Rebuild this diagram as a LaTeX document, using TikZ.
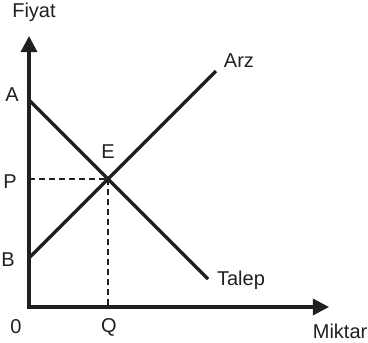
\documentclass[tikz,border=0pt]{standalone}
\usepackage{fontspec}
\setmainfont{Liberation Sans}
\usetikzlibrary{arrows.meta}
\definecolor{ink}{HTML}{231F20}
\begin{document}
\begin{tikzpicture}[x=1pt,y=-1pt,
  lbl/.style={font=\fontsize{20}{22}\selectfont, text=ink, inner sep=0pt},
  axisline/.style={draw=ink, line width=3.2pt, -{Triangle[length=16pt,width=16pt]}},
  curve/.style={draw=ink, line width=3.2pt},
  guide/.style={draw=ink, line width=1.6pt, dash pattern=on 6pt off 4pt}]
\useasboundingbox (0,0) rectangle (368,343);
\coordinate (O) at (29,307);
\coordinate (ytip) at (29,36);
\coordinate (xtip) at (329,307);
\coordinate (Apt) at (29,100);
\coordinate (Bpt) at (29,258);
\coordinate (Ept) at (108,179);
\coordinate (Ppt) at (29,179);
\coordinate (Qpt) at (108,307);
\coordinate (Tend) at (208,279);
\coordinate (Aend) at (216,71);
\draw[guide] (Ppt) -- (Ept);
\draw[guide] (Ept) -- (Qpt);
\draw[curve] (Apt) -- (Tend);
\draw[curve] (Bpt) -- (Aend);
\draw[axisline] ([xshift=-1.6pt]O) -- (xtip);
\draw[axisline] ([yshift=1.6pt]O) -- (ytip);
\node[lbl] (fiyat) at (34,12) {Fiyat};
\node[lbl, anchor=east] (miktar) at (367.5,331) {Miktar};
\node[lbl] (zero) at (16,327) {0};
\node[lbl] (q) at (109,327) {Q};
\node[lbl] (a) at (12,95) {A};
\node[lbl] (p) at (10,182) {P};
\node[lbl] (b) at (8,260) {B};
\node[lbl] (e) at (108,152) {E};
\node[lbl] (arz) at (239,61) {Arz};
\node[lbl] (talep) at (241,280) {Talep};
\end{tikzpicture}
\end{document}
